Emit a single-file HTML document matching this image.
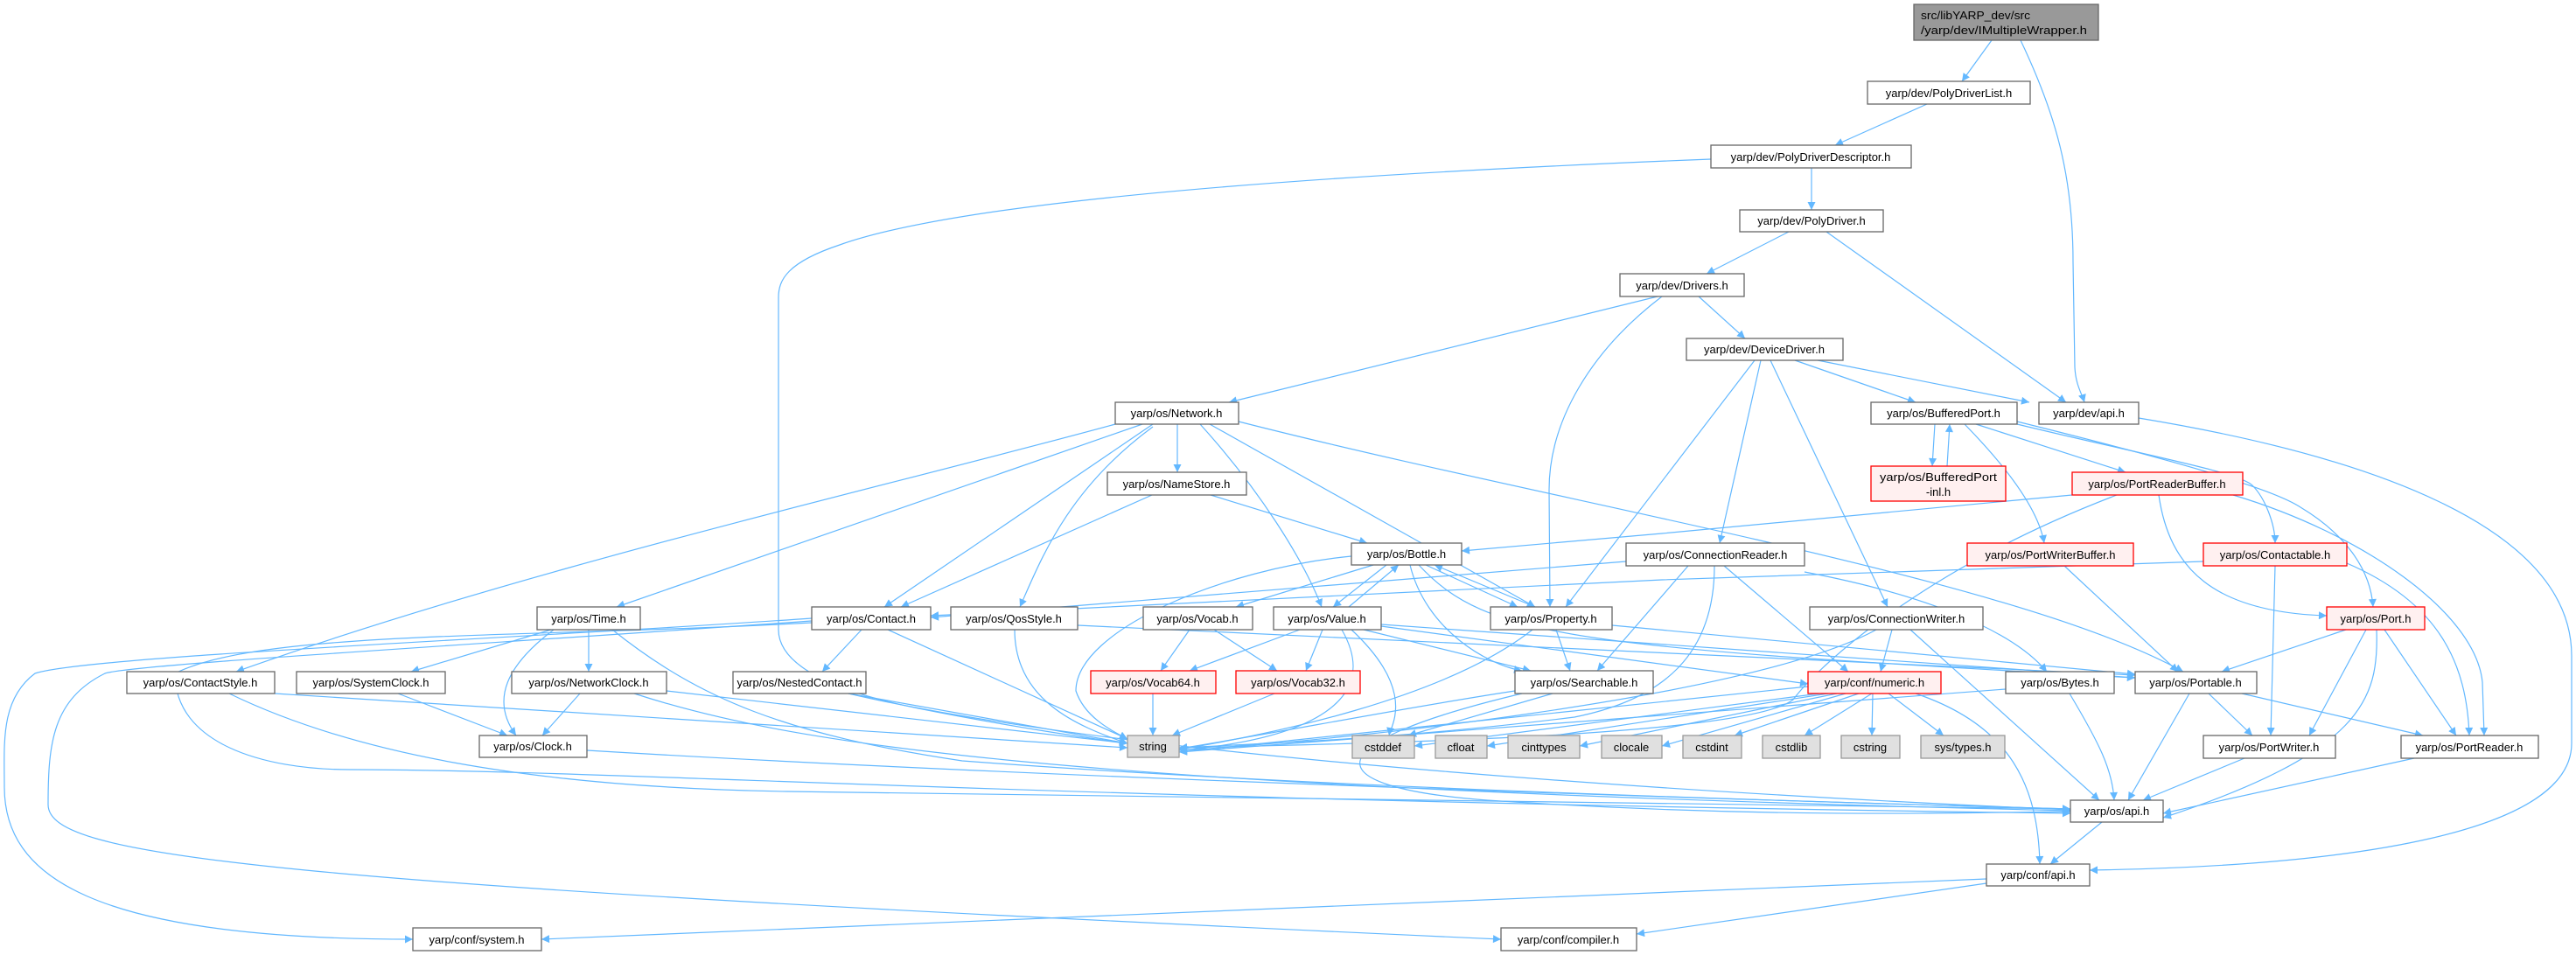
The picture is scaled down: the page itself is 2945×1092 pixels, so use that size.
<!DOCTYPE html>
<html><head><meta charset="utf-8"><style>
html,body{margin:0;padding:0;background:#fff;}
svg{display:block;}
text{font-family:"Liberation Sans",sans-serif;font-size:13px;fill:#000;}
</style></head><body>
<svg width="2945" height="1092" viewBox="0 0 2945 1092" xmlns="http://www.w3.org/2000/svg">
<defs><marker id="a" viewBox="0 0 10 10" refX="10" refY="5" markerWidth="11" markerHeight="9" markerUnits="userSpaceOnUse" orient="auto"><path d="M0,0 L10,5 L0,10 z" fill="#63b8ff"/></marker></defs>
<g fill="none" stroke="#63b8ff" stroke-width="1.2" marker-end="url(#a)">
<path d="M2277,46 L2243,93"/>
<path d="M2310,46 C2350,130 2370,200 2370,300 L2372,420 C2373,440 2380,450 2383,460"/>
<path d="M2203,119 L2098,166"/>
<path d="M2071,192 L2071,240"/>
<path d="M1956,182 C1500,200 1100,230 960,280 C900,300 890,320 890,340 L890,720 C890,760 950,790 1050,810 C1150,830 1250,845 1289,850"/>
<path d="M2045,265 L1951,313"/>
<path d="M2088,265 L2362,460"/>
<path d="M1895,339 L1405,460"/>
<path d="M1900,339 C1820,400 1771,480 1771,560 L1772,694"/>
<path d="M1942,339 L1995,387"/>
<path d="M2052,412 L2190,460"/>
<path d="M2078,412 L2320,460"/>
<path d="M2013,412 L1966,621"/>
<path d="M2006,412 L1790,694"/>
<path d="M2024,412 L2158,694"/>
<path d="M2445,478 C2700,520 2940,600 2940,750 L2940,850 C2940,950 2700,990 2389,995"/>
<path d="M2212,485 L2209,533"/>
<path d="M2226,533 L2229,485"/>
<path d="M2259,485 L2430,540"/>
<path d="M2246,485 C2290,530 2330,580 2337,621"/>
<path d="M2306,485 C2450,520 2560,540 2575,555 C2590,570 2601,600 2601,621"/>
<path d="M2306,482 C2500,530 2600,560 2630,580 C2680,610 2710,650 2713,694"/>
<path d="M2369,566 L1900,610 L1671,630"/>
<path d="M2420,566 C2200,650 2080,760 2050,800 C2000,840 1600,850 1348,855"/>
<path d="M2468,566 C2480,650 2530,700 2660,704"/>
<path d="M2553,566 C2700,610 2830,700 2838,780 L2840,841"/>
<path d="M2360,647 L2490,768"/>
<path d="M2519,642 L1900,663 L1064,704"/>
<path d="M2601,647 L2596,841"/>
<path d="M2683,644 C2790,690 2820,760 2823,841"/>
<path d="M1859,642 L1064,706"/>
<path d="M1930,647 L1826,767"/>
<path d="M1960,647 C1960,750 1900,800 1800,820 C1600,845 1450,850 1348,855"/>
<path d="M1971,647 L2113,768"/>
<path d="M2063,654 C2200,680 2300,720 2340,768"/>
<path d="M1346,485 L1346,540"/>
<path d="M1275,485 C1000,560 600,650 270,768"/>
<path d="M1306,485 L705,694"/>
<path d="M1318,485 L1011,694"/>
<path d="M1318,488 C1220,560 1190,640 1166,694"/>
<path d="M1372,485 C1440,560 1490,640 1511,694"/>
<path d="M1383,485 L1755,694"/>
<path d="M1416,482 C1800,580 2300,660 2496,768"/>
<path d="M1317,566 L1030,694"/>
<path d="M1384,566 L1563,621"/>
<path d="M1570,646 L1413,694"/>
<path d="M1585,646 L1524,694"/>
<path d="M1542,694 L1599,646"/>
<path d="M1630,646 L1735,694"/>
<path d="M1755,694 L1640,646"/>
<path d="M1545,636 C1400,650 1230,720 1230,790 C1240,820 1270,835 1289,845"/>
<path d="M1612,646 C1630,720 1700,760 1740,767"/>
<path d="M1622,646 C1700,730 1800,740 2441,775"/>
<path d="M1486,720 L1360,767"/>
<path d="M1512,720 L1493,767"/>
<path d="M1534,720 C1580,800 1500,845 1348,858"/>
<path d="M1545,720 C1620,790 1590,830 1588,841"/>
<path d="M1559,720 L1750,767"/>
<path d="M1579,716 L2067,782"/>
<path d="M1579,714 L2441,775"/>
<path d="M1360,720 L1327,767"/>
<path d="M1388,720 L1460,767"/>
<path d="M1318,793 L1318,841"/>
<path d="M1457,793 L1340,841"/>
<path d="M1752,720 C1650,800 1450,840 1348,857"/>
<path d="M1779,720 L1795,767"/>
<path d="M1843,715 L2441,771"/>
<path d="M1732,790 C1600,810 1450,840 1348,856"/>
<path d="M1775,793 L1610,841"/>
<path d="M1740,793 C1500,850 1500,900 1700,915 C2000,935 2200,930 2367,928"/>
<path d="M985,720 L940,768"/>
<path d="M1015,720 L1289,845"/>
<path d="M928,712 C600,730 300,720 200,770 C200,850 300,880 400,880 C700,880 1200,915 2367,930"/>
<path d="M928,707 C600,730 100,750 40,770 C0,800 5,850 5,900 C5,1000 100,1074 472,1074"/>
<path d="M928,710 C500,740 150,760 120,770 C60,800 55,850 55,920 C55,980 300,1010 1716,1074"/>
<path d="M1160,720 C1160,800 1230,830 1289,850"/>
<path d="M1232,715 L2441,772"/>
<path d="M630,720 L470,768"/>
<path d="M673,720 L673,768"/>
<path d="M633,720 C580,760 560,800 590,841"/>
<path d="M700,720 C800,800 900,840 1100,870 C1500,900 2000,915 2367,925"/>
<path d="M455,793 L580,841"/>
<path d="M663,793 L620,841"/>
<path d="M762,790 L1289,850"/>
<path d="M725,793 C900,850 1200,900 2367,927"/>
<path d="M314,793 L1289,855"/>
<path d="M262,793 C400,860 600,900 900,905 C1500,915 2000,920 2367,925"/>
<path d="M970,793 L1289,850"/>
<path d="M970,793 C1300,870 2000,910 2367,926"/>
<path d="M671,858 C1200,890 2000,915 2367,925"/>
<path d="M2067,785 L1348,860"/>
<path d="M2080,793 L1617,853"/>
<path d="M2090,793 L1700,853"/>
<path d="M2100,793 L1806,853"/>
<path d="M2110,793 L1900,853"/>
<path d="M2125,793 L1983,841"/>
<path d="M2140,793 L2063,841"/>
<path d="M2141,793 L2140,841"/>
<path d="M2159,793 L2222,841"/>
<path d="M2190,793 C2300,830 2330,900 2332,988"/>
<path d="M2163,720 L2150,768"/>
<path d="M2145,720 C2000,800 1500,850 1348,858"/>
<path d="M2184,720 L2400,915"/>
<path d="M2293,788 L1348,860"/>
<path d="M2366,793 C2400,850 2415,880 2417,915"/>
<path d="M2503,793 L2433,915"/>
<path d="M2525,793 L2575,841"/>
<path d="M2563,793 L2770,841"/>
<path d="M2682,720 L2540,768"/>
<path d="M2705,720 L2640,841"/>
<path d="M2726,720 L2808,841"/>
<path d="M2717,720 C2720,800 2700,860 2473,935"/>
<path d="M2566,867 L2450,915"/>
<path d="M2760,867 L2473,930"/>
<path d="M2403,940 L2344,988"/>
<path d="M2271,1005 L619,1074"/>
<path d="M2271,1010 L1871,1068"/>
</g>
<g stroke-width="1.3">
<rect x="2188" y="5" width="211" height="41" fill="#999" stroke="#666"/>
<text x="2196" y="22" textLength="125" lengthAdjust="spacingAndGlyphs">src/libYARP_dev/src</text>
<text x="2196" y="39" textLength="190" lengthAdjust="spacingAndGlyphs">/yarp/dev/IMultipleWrapper.h</text>
<rect x="2139" y="533" width="154" height="40" fill="#fff0f0" stroke="#f00"/>
<text x="2216" y="550" text-anchor="middle" textLength="134" lengthAdjust="spacingAndGlyphs">yarp/os/BufferedPort</text>
<text x="2216" y="567" text-anchor="middle">-inl.h</text>
</g>
<g stroke-width="1.3" text-anchor="middle">
<!-- white nodes -->
<g fill="#fff" stroke="#666">
<rect x="2135" y="93" width="186" height="26"/>
<rect x="1956" y="166" width="229" height="26"/>
<rect x="1989" y="240" width="164" height="25"/>
<rect x="1852" y="313" width="142" height="26"/>
<rect x="1928" y="387" width="179" height="25"/>
<rect x="1275" y="460" width="141" height="25"/>
<rect x="2139" y="460" width="167" height="25"/>
<rect x="2331" y="460" width="114" height="25"/>
<rect x="1266" y="540" width="159" height="26"/>
<rect x="1545" y="621" width="126" height="25"/>
<rect x="1859" y="621" width="204" height="26"/>
<rect x="614" y="694" width="118" height="26"/>
<rect x="928" y="694" width="136" height="26"/>
<rect x="1087" y="694" width="145" height="26"/>
<rect x="1307" y="694" width="125" height="26"/>
<rect x="1456" y="694" width="123" height="26"/>
<rect x="1704" y="694" width="139" height="26"/>
<rect x="2069" y="694" width="198" height="26"/>
<rect x="145" y="768" width="169" height="25"/>
<rect x="339" y="768" width="170" height="25"/>
<rect x="585" y="768" width="177" height="25"/>
<rect x="838" y="768" width="152" height="25"/>
<rect x="1732" y="767" width="158" height="26"/>
<rect x="2293" y="768" width="124" height="25"/>
<rect x="2441" y="768" width="139" height="25"/>
<rect x="548" y="841" width="123" height="25"/>
<rect x="2519" y="841" width="151" height="26"/>
<rect x="2745" y="841" width="157" height="26"/>
<rect x="2367" y="915" width="106" height="25"/>
<rect x="2271" y="988" width="118" height="25"/>
<rect x="472" y="1061" width="147" height="26"/>
<rect x="1716" y="1061" width="155" height="26"/>
</g>
<g fill="#fff0f0" stroke="#f00">
<rect x="2369" y="540" width="195" height="26"/>
<rect x="2249" y="621" width="190" height="26"/>
<rect x="2519" y="621" width="164" height="26"/>
<rect x="2660" y="694" width="112" height="26"/>
<rect x="1247" y="767" width="143" height="26"/>
<rect x="1413" y="767" width="142" height="26"/>
<rect x="2067" y="768" width="152" height="25"/>
</g>
<g fill="#e0e0e0" stroke="#999">
<rect x="1289" y="841" width="59" height="25"/>
<rect x="1546" y="841" width="71" height="26"/>
<rect x="1641" y="841" width="59" height="26"/>
<rect x="1724" y="841" width="82" height="26"/>
<rect x="1831" y="841" width="69" height="26"/>
<rect x="1924" y="841" width="67" height="26"/>
<rect x="2015" y="841" width="66" height="26"/>
<rect x="2105" y="841" width="67" height="26"/>
<rect x="2196" y="841" width="96" height="26"/>
</g>
<text x="2228" y="111">yarp/dev/PolyDriverList.h</text>
<text x="2070" y="184">yarp/dev/PolyDriverDescriptor.h</text>
<text x="2071" y="257">yarp/dev/PolyDriver.h</text>
<text x="1923" y="331">yarp/dev/Drivers.h</text>
<text x="2017" y="404">yarp/dev/DeviceDriver.h</text>
<text x="1345" y="477">yarp/os/Network.h</text>
<text x="2222" y="477">yarp/os/BufferedPort.h</text>
<text x="2388" y="477">yarp/dev/api.h</text>
<text x="1345" y="558">yarp/os/NameStore.h</text>
<text x="2466" y="558">yarp/os/PortReaderBuffer.h</text>
<text x="1608" y="638">yarp/os/Bottle.h</text>
<text x="1961" y="639">yarp/os/ConnectionReader.h</text>
<text x="2344" y="639">yarp/os/PortWriterBuffer.h</text>
<text x="2601" y="639">yarp/os/Contactable.h</text>
<text x="673" y="712">yarp/os/Time.h</text>
<text x="996" y="712">yarp/os/Contact.h</text>
<text x="1159" y="712">yarp/os/QosStyle.h</text>
<text x="1369" y="712">yarp/os/Vocab.h</text>
<text x="1517" y="712">yarp/os/Value.h</text>
<text x="1773" y="712">yarp/os/Property.h</text>
<text x="2168" y="712">yarp/os/ConnectionWriter.h</text>
<text x="2716" y="712">yarp/os/Port.h</text>
<text x="229" y="785">yarp/os/ContactStyle.h</text>
<text x="424" y="785">yarp/os/SystemClock.h</text>
<text x="673" y="785">yarp/os/NetworkClock.h</text>
<text x="914" y="785">yarp/os/NestedContact.h</text>
<text x="1318" y="785">yarp/os/Vocab64.h</text>
<text x="1484" y="785">yarp/os/Vocab32.h</text>
<text x="1811" y="785">yarp/os/Searchable.h</text>
<text x="2143" y="785">yarp/conf/numeric.h</text>
<text x="2355" y="785">yarp/os/Bytes.h</text>
<text x="2510" y="785">yarp/os/Portable.h</text>
<text x="609" y="858">yarp/os/Clock.h</text>
<text x="1318" y="858">string</text>
<text x="1581" y="859">cstddef</text>
<text x="1670" y="859">cfloat</text>
<text x="1765" y="859">cinttypes</text>
<text x="1865" y="859">clocale</text>
<text x="1957" y="859">cstdint</text>
<text x="2048" y="859">cstdlib</text>
<text x="2138" y="859">cstring</text>
<text x="2244" y="859">sys/types.h</text>
<text x="2594" y="859">yarp/os/PortWriter.h</text>
<text x="2823" y="859">yarp/os/PortReader.h</text>
<text x="2420" y="932">yarp/os/api.h</text>
<text x="2330" y="1005">yarp/conf/api.h</text>
<text x="545" y="1079">yarp/conf/system.h</text>
<text x="1793" y="1079">yarp/conf/compiler.h</text>
</g>
</svg>
</body></html>
